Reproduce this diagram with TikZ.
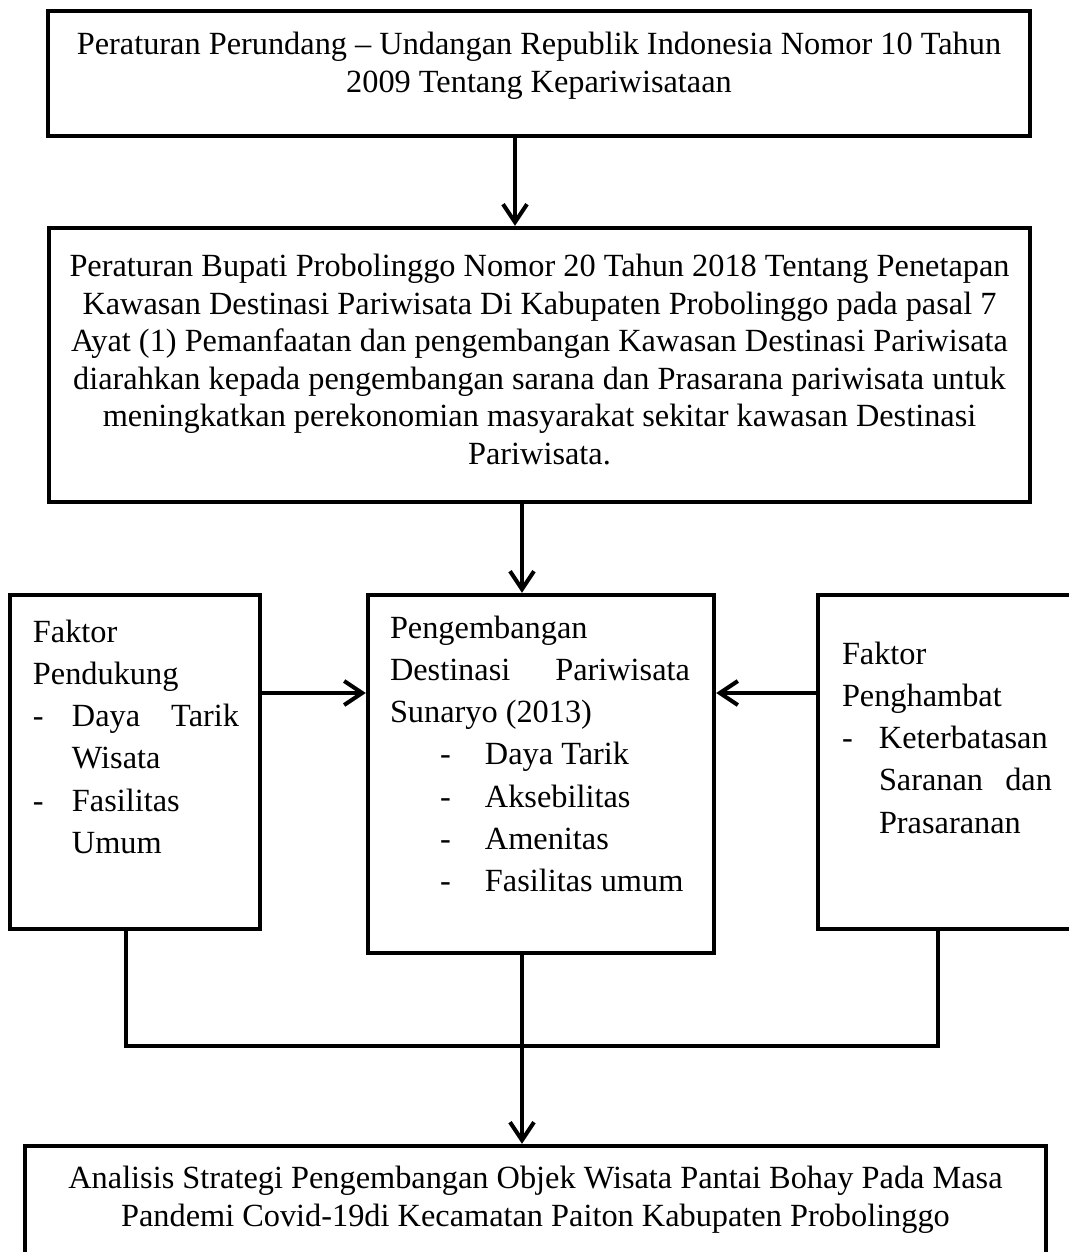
\documentclass[tikz,border=0pt]{standalone}
\usepackage{fontspec}
\setmainfont{Liberation Serif}
\usetikzlibrary{arrows.meta}

\newlength\px
\setlength\px{0.02cm}
% box content: width, height, top gap, text
\newcommand{\isi}[4]{\begin{minipage}[c][#2\px][t]{#1\px}\parindent=0pt\vspace*{#3\px}#4\end{minipage}}

\begin{document}
\begin{tikzpicture}[x=0.02cm,y=-0.02cm]
\tikzset{kotak/.style={draw,line width=2.5pt,inner sep=0pt},
  rapat/.style={font=\fontsize{18.4}{21.4}\selectfont},
  renggang/.style={font=\fontsize{18.4}{24}\selectfont},
  garis/.style={line width=2.3pt},
  panah/.style={garis,-{Straight Barb[length=0.36cm,width=0.48cm]}}}

\useasboundingbox (0,0) rectangle (1069,1252);

\node[kotak,rapat] (uu) at (539,73.5) {\isi{982}{125}{21}{\centering
  Peraturan Perundang – Undangan Republik Indonesia Nomor 10 Tahun\\
  2009 Tentang Kepariwisataan}};

\node[kotak,rapat] (perbup) at (539.5,365) {\isi{981}{274}{26}{\centering
  Peraturan Bupati Probolinggo Nomor 20 Tahun 2018 Tentang Penetapan\\
  Kawasan Destinasi Pariwisata Di Kabupaten Probolinggo pada pasal 7\\
  Ayat (1) Pemanfaatan dan pengembangan Kawasan Destinasi Pariwisata\\
  diarahkan kepada pengembangan sarana dan Prasarana pariwisata untuk\\
  meningkatkan perekonomian masyarakat sekitar kawasan Destinasi\\
  Pariwisata.}};

\node[kotak,renggang] (pendukung) at (135,762) {\isi{250}{334}{25}{%
  \setlength{\leftskip}{23\px}\setlength{\rightskip}{21\px}%
  Faktor\\
  Pendukung\\
  \makebox[39\px][l]{-}Daya\hfill Tarik\\
  \hspace*{39\px}Wisata\\
  \makebox[39\px][l]{-}Fasilitas\\
  \hspace*{39\px}Umum}};

\node[kotak,renggang] (sunaryo) at (541,774) {\isi{346}{358}{21}{%
  \setlength{\leftskip}{22\px}\setlength{\rightskip}{24\px}%
  Pengembangan\\
  Destinasi\hfill Pariwisata\\
  Sunaryo (2013)\\
  \hspace*{50\px}\makebox[45\px][l]{-}Daya Tarik\\
  \hspace*{50\px}\makebox[45\px][l]{-}Aksebilitas\\
  \hspace*{50\px}\makebox[45\px][l]{-}Amenitas\\
  \hspace*{50\px}\makebox[45\px][l]{-}Fasilitas umum}};

\node[kotak,renggang] (penghambat) at (946,762) {\isi{256}{334}{47}{%
  \setlength{\leftskip}{24\px}\setlength{\rightskip}{22\px}%
  Faktor\\
  Penghambat\\
  \makebox[37\px][l]{-}Keterbatasan\\
  \hspace*{37\px}Saranan\hfill dan\\
  \hspace*{37\px}Prasaranan}};

\node[kotak,rapat] (analisis) at (535.5,1207) {\isi{1021}{122}{20}{\centering
  Analisis Strategi Pengembangan Objek Wisata Pantai Bohay Pada Masa\\
  Pandemi Covid-19di Kecamatan Paiton Kabupaten Probolinggo}};

% helper lines for the connectors
\coordinate (k1) at (515,0);
\coordinate (k2) at (522,0);
\coordinate (kiri) at (126,0);
\coordinate (kanan) at (938,0);
\coordinate (sisi) at (0,693);
\coordinate (gabung) at (0,1046);

\draw[panah] (uu.south -| k1) -- (perbup.north -| k1);
\draw[panah] (perbup.south -| k2) -- (sunaryo.north -| k2);
\draw[panah] (pendukung.east |- sisi) -- (sunaryo.west |- sisi);
\draw[panah] (penghambat.west |- sisi) -- (sunaryo.east |- sisi);
\draw[garis] (pendukung.south -| kiri) -- (kiri |- gabung) -- (kanan |- gabung) -- (penghambat.south -| kanan);
\draw[panah] (sunaryo.south -| k2) -- (analisis.north -| k2);
\end{tikzpicture}
\end{document}
